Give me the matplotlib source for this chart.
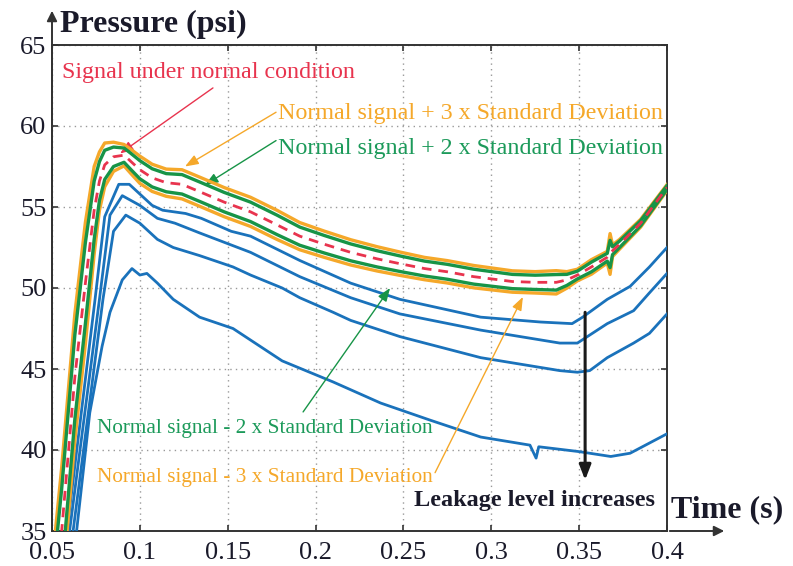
import matplotlib
matplotlib.use("Agg")
import matplotlib.pyplot as plt
import numpy as np

plt.rcParams['font.family'] = ['Liberation Serif', 'DejaVu Serif']

# ---- normal (no-leak) signal and its standard deviation ----
t_normal = [0.050, 0.0555, 0.063, 0.069, 0.074, 0.077, 0.080, 0.085, 0.091, 0.095,
            0.100, 0.107, 0.115, 0.124, 0.135, 0.148, 0.163, 0.178, 0.191, 0.205,
            0.220, 0.235, 0.248, 0.262, 0.275, 0.290, 0.312, 0.325, 0.337, 0.343,
            0.349, 0.357, 0.366, 0.3676, 0.369, 0.373, 0.385, 0.400]
p_normal = [29.0, 35.0, 44.5, 50.3, 54.8, 56.6, 57.6, 58.1, 58.2, 57.8,
            57.3, 56.8, 56.5, 56.4, 55.9, 55.3, 54.7, 53.9, 53.2, 52.7,
            52.2, 51.8, 51.5, 51.2, 51.0, 50.7, 50.4, 50.35, 50.35, 50.5,
            50.8, 51.3, 51.9, 52.1, 52.3, 52.7, 54.0, 56.2]
p_std = [1.3, 1.3, 1.3, 1.25, 0.9, 0.6, 0.45, 0.3, 0.22, 0.25,
         0.28, 0.28, 0.28, 0.30, 0.30, 0.30, 0.30, 0.30, 0.28, 0.27,
         0.26, 0.25, 0.24, 0.23, 0.23, 0.23, 0.22, 0.22, 0.24, 0.17,
         0.12, 0.15, 0.12, 0.42, 0.12, 0.10, 0.08, 0.06]

# ---- leak signals (leakage level increasing) ----
t_leak1 = [0.050, 0.0585, 0.0745, 0.080, 0.088, 0.094, 0.101, 0.107, 0.113, 0.126,
           0.135, 0.152, 0.163, 0.191, 0.220, 0.248, 0.294, 0.328, 0.346, 0.352,
           0.366, 0.379, 0.390, 0.400]
p_leak1 = [28.0, 35.0, 49.3, 54.4, 56.4, 56.4, 55.7, 55.1, 54.8, 54.6,
           54.3, 53.5, 53.2, 51.7, 50.3, 49.3, 48.2, 47.9, 47.8, 48.2,
           49.3, 50.1, 51.3, 52.5]

t_leak2 = [0.050, 0.060, 0.077, 0.083, 0.090, 0.100, 0.110, 0.120, 0.134, 0.163,
           0.191, 0.220, 0.248, 0.294, 0.339, 0.349, 0.366, 0.381, 0.390, 0.400]
p_leak2 = [27.5, 35.0, 49.3, 54.5, 55.7, 55.1, 54.3, 54.0, 53.4, 52.2,
           50.7, 49.4, 48.4, 47.4, 46.6, 46.6, 47.8, 48.6, 49.7, 50.9]

t_leak3 = [0.050, 0.062, 0.079, 0.085, 0.092, 0.100, 0.110, 0.119, 0.134, 0.153,
           0.163, 0.181, 0.191, 0.210, 0.220, 0.248, 0.294, 0.339, 0.349, 0.356,
           0.366, 0.381, 0.390, 0.400]
p_leak3 = [26.0, 35.0, 49.3, 53.5, 54.5, 54.0, 53.0, 52.5, 52.0, 51.3,
           50.8, 50.0, 49.4, 48.5, 48.0, 47.0, 45.7, 44.9, 44.8, 44.9,
           45.7, 46.6, 47.2, 48.4]

t_leak4 = [0.055, 0.064, 0.0715, 0.0785, 0.083, 0.090, 0.0955, 0.100, 0.104, 0.110,
           0.119, 0.134, 0.153, 0.181, 0.210, 0.237, 0.265, 0.294, 0.322, 0.3255,
           0.327, 0.350, 0.368, 0.379, 0.400]
p_leak4 = [27.0, 35.0, 42.3, 46.4, 48.5, 50.5, 51.2, 50.8, 50.9, 50.3,
           49.3, 48.2, 47.5, 45.5, 44.2, 42.9, 41.85, 40.8, 40.3, 39.5,
           40.2, 39.9, 39.6, 39.8, 41.0]

x_ticks = [0.05, 0.1, 0.15, 0.2, 0.25, 0.3, 0.35, 0.4]
x_tick_labels = ['0.05', '0.1', '0.15', '0.2', '0.25', '0.3', '0.35', '0.4']
y_ticks = [35, 40, 45, 50, 55, 60, 65]

BLUE = '#1a72bb'
ORANGE = '#f5a82a'
GREEN = '#179447'
RED = '#e8344e'
ORANGE_TXT = '#f5a82a'
GREEN_TXT = '#1c9a5a'
INK = '#1a1a2a'

fig = plt.figure(figsize=(7.93, 5.66), dpi=100)
ax = fig.add_axes([52 / 793, 1 - 531 / 566, 615 / 793, 486 / 566])

tn = np.array(t_normal)
pn = np.array(p_normal)
sd = np.array(p_std)

for tt, pp in [(t_leak1, p_leak1), (t_leak2, p_leak2), (t_leak3, p_leak3), (t_leak4, p_leak4)]:
    ax.plot(tt, pp, color=BLUE, lw=2.0, zorder=3)

ax.plot(tn, pn + 3 * sd, color=ORANGE, lw=2.4, zorder=4)
ax.plot(tn, pn - 3 * sd, color=ORANGE, lw=2.4, zorder=4)
ax.plot(tn, pn + 2 * sd, color=GREEN, lw=2.4, zorder=5)
ax.plot(tn, pn - 2 * sd, color=GREEN, lw=2.4, zorder=5)
ax.plot(tn, pn, color=RED, lw=2.0, ls=(0, (3.5, 2.5)), zorder=6)

ax.set_xlim(0.05, 0.4)
ax.set_ylim(35, 65)
ax.set_xticks(x_ticks)
ax.set_xticklabels(x_tick_labels)
ax.set_yticks(y_ticks)
ax.tick_params(direction='in', length=4, width=1.2, labelsize=19, colors='#333333',
               top=True, right=True)
ax.tick_params(axis='x', pad=8)
ax.tick_params(axis='y', pad=4)
for lab in ax.get_xticklabels() + ax.get_yticklabels():
    lab.set_color(INK)
ax.grid(True, ls=(0, (1, 3)), color='#999999', lw=1.0)
for sp in ax.spines.values():
    sp.set_color('#333333')
    sp.set_linewidth(1.4)

# axis arrows
fig.patches.append(matplotlib.patches.FancyArrowPatch(
    (52 / 793, 1 - 531 / 566), (52 / 793, 1 - 8 / 566), transform=fig.transFigure,
    arrowstyle='-|>,head_length=6,head_width=3', color='#333333', lw=1.4, mutation_scale=1))
fig.patches.append(matplotlib.patches.FancyArrowPatch(
    (667 / 793, 1 - 531 / 566), (727 / 793, 1 - 531 / 566), transform=fig.transFigure,
    arrowstyle='-|>,head_length=6,head_width=3', color='#333333', lw=1.4, mutation_scale=1))

fig.text(60 / 793, 1 - 24 / 566, 'Pressure (psi)', fontsize=23, fontweight='bold',
         color=INK, ha='left', va='center')
fig.text(671 / 793, 1 - 510 / 566, 'Time (s)', fontsize=23, fontweight='bold',
         color=INK, ha='left', va='center')

# annotations
arrow_kw = dict(arrowstyle='-|>,head_length=0.8,head_width=0.3', lw=1.0, shrinkA=0, shrinkB=0)
upper_kw = dict(fontsize=17.3, ha='left', va='center')
lower_kw = dict(fontsize=15.3, ha='left', va='center')

ax.text(0.0556, 63.3, 'Signal under normal condition', color=RED, **upper_kw)
ax.annotate('', xy=(0.0887, 58.3), xytext=(0.1416, 62.35),
            arrowprops=dict(color=RED, **arrow_kw))

ax.text(0.1786, 60.8, 'Normal signal + 3 x Standard Deviation', color=ORANGE_TXT, **upper_kw)
ax.annotate('', xy=(0.1257, 57.5), xytext=(0.1775, 60.85),
            arrowprops=dict(color=ORANGE, **arrow_kw))
ax.text(0.1786, 58.6, 'Normal signal + 2 x Standard Deviation', color=GREEN_TXT, **upper_kw)
ax.annotate('', xy=(0.137, 56.35), xytext=(0.1775, 59.1),
            arrowprops=dict(color=GREEN, **arrow_kw))

ax.text(0.0756, 41.35, 'Normal signal - 2 x Standard Deviation', color=GREEN_TXT, **lower_kw)
ax.annotate('', xy=(0.2424, 50.0), xytext=(0.1929, 42.35),
            arrowprops=dict(color=GREEN, **arrow_kw))
ax.text(0.0756, 38.3, 'Normal signal - 3 x Standard Deviation', color=ORANGE_TXT, **lower_kw)
ax.annotate('', xy=(0.318, 49.45), xytext=(0.268, 38.6),
            arrowprops=dict(color=ORANGE, **arrow_kw))

ax.annotate('', xy=(0.3534, 38.15), xytext=(0.3534, 48.5),
            arrowprops=dict(arrowstyle='-|>,head_length=0.9,head_width=0.35', color='#1a1a1a',
                            lw=2.2, shrinkA=0, shrinkB=0), zorder=7)
ax.text(0.3245, 36.9, 'Leakage level increases', fontsize=17.5, fontweight='bold',
        color=INK, ha='center', va='center')

fig.savefig('out.png', dpi=100)
